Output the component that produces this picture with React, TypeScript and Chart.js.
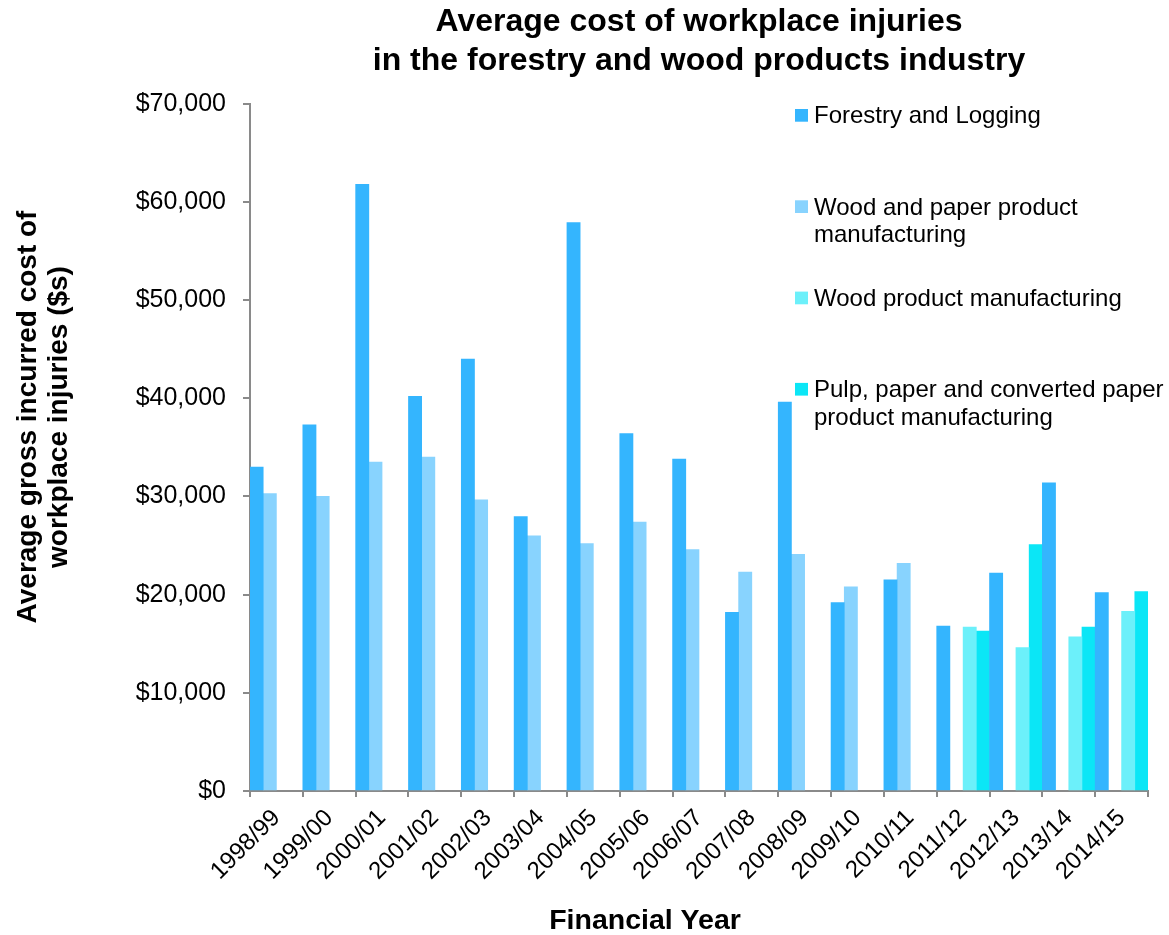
import React, { useEffect, useRef } from "react";
import { Chart, registerables } from "chart.js";

Chart.register(...registerables);

// ---------- data ----------
const categories = [
  "1998/99", "1999/00", "2000/01", "2001/02", "2002/03", "2003/04", "2004/05",
  "2005/06", "2006/07", "2007/08", "2008/09", "2009/10", "2010/11", "2011/12",
  "2012/13", "2013/14", "2014/15",
];

const forestryLogging = [
  33000, 37300, 61800, 40200, 44000, 27950, 57900, 36400, 33800, 18200, 39600,
  19200, 21500, 16800, 22200, 31400, 20200,
];

const woodPaperManufacturing = [
  30300, 30000, 33500, 34000, 29650, 26000, 25200, 27400, 24600, 22300, 24100,
  20800, 23200, null, null, null, null,
];

const woodProductManufacturing = [
  null, null, null, null, null, null, null, null, null, null, null, null, null,
  16700, 14600, 15700, 18300,
];

const pulpPaperManufacturing = [
  null, null, null, null, null, null, null, null, null, null, null, null, null,
  16300, 25100, 16700, 20300,
];

const seriesNames = [
  "Forestry and Logging",
  "Wood and paper product manufacturing",
  "Wood product manufacturing",
  "Pulp, paper and converted paper product manufacturing",
];

const legendLines = [
  ["Forestry and Logging"],
  ["Wood and paper product", "manufacturing"],
  ["Wood product manufacturing"],
  ["Pulp, paper and converted paper", "product manufacturing"],
];

const seriesColors = ["#34b5fe", "#88d3fe", "#6cf0fa", "#0be6f6"];

const chartTitle = [
  "Average cost of workplace injuries",
  "in the forestry and wood products industry",
];
const yAxisTitle = ["Average gross incurred cost of", "workplace injuries ($s)"];
const xAxisTitle = "Financial Year";

const yMin = 0;
const yMax = 70000;
const yStep = 10000;

// ---------- style ----------
const FONT = '"Liberation Sans", Arial, Helvetica, sans-serif';
const AXIS_COLOR = "#8a8a8a";

const overlayPlugin = {
  id: "overlayTexts",
  afterDraw(chart: any) {
    const ctx = chart.ctx as CanvasRenderingContext2D;
    ctx.save();
    ctx.fillStyle = "#000";

    // Y axis title (rotated)
    ctx.font = `bold 28px ${FONT}`;
    ctx.textAlign = "center";
    ctx.textBaseline = "alphabetic";
    yAxisTitle.forEach((line, i) => {
      ctx.save();
      ctx.translate(36 + i * 31, 417);
      ctx.rotate(-Math.PI / 2);
      ctx.fillText(line, 0, 0);
      ctx.restore();
    });

    // X axis title
    ctx.font = `bold 28.5px ${FONT}`;
    ctx.fillText(xAxisTitle, 645, 929);

    // Legend (inside plot area, top right)
    ctx.font = `24px ${FONT}`;
    ctx.textAlign = "left";
    chart.data.datasets.forEach((ds: any, i: number) => {
      const base = 123.3 + i * 91.3;
      ctx.fillStyle = ds.backgroundColor;
      ctx.fillRect(795, base - 14.3, 13, 12.7);
      ctx.fillStyle = "#000";
      legendLines[i].forEach((t, j) => ctx.fillText(t, 814, base + j * 27.7));
    });

    ctx.restore();
  },
};

export default function App() {
  const canvasRef = useRef<HTMLCanvasElement | null>(null);

  useEffect(() => {
    if (!canvasRef.current) return;
    const seriesData = [
      forestryLogging,
      woodPaperManufacturing,
      woodProductManufacturing,
      pulpPaperManufacturing,
    ];
    const chart = new Chart(canvasRef.current, {
      type: "bar",
      data: {
        labels: categories,
        datasets: seriesData.map((d, i) => ({
          label: seriesNames[i],
          data: d,
          backgroundColor: seriesColors[i],
          borderWidth: 0,
          categoryPercentage: 1,
          barPercentage: 1,
        })),
      },
      options: {
        responsive: false,
        animation: false,
        devicePixelRatio: 1,
        layout: { padding: { left: 0, right: 21, top: 0, bottom: 0 } },
        plugins: {
          legend: { display: false },
          tooltip: { enabled: false },
          title: {
            display: true,
            text: chartTitle,
            fullSize: false,
            color: "#000",
            font: { family: FONT, size: 32, weight: "bold", lineHeight: 1.23 },
            padding: { top: 2, bottom: 23 },
          },
        },
        scales: {
          x: {
            type: "category",
            offset: true,
            grid: {
              display: true,
              offset: true,
              drawOnChartArea: false,
              drawTicks: true,
              tickLength: 6,
              color: AXIS_COLOR,
              lineWidth: 2,
            },
            border: { display: true, color: AXIS_COLOR, width: 2 },
            ticks: {
              color: "#000",
              font: { family: FONT, size: 24 },
              minRotation: 45,
              maxRotation: 45,
              autoSkip: false,
              padding: 7,
            },
            afterFit: (scale: any) => {
              scale.height = 144;
            },
          },
          y: {
            min: yMin,
            max: yMax,
            grid: {
              display: true,
              drawOnChartArea: false,
              drawTicks: true,
              tickLength: 7,
              color: AXIS_COLOR,
              lineWidth: 2,
            },
            border: { display: true, color: AXIS_COLOR, width: 2 },
            ticks: {
              stepSize: yStep,
              color: "#000",
              font: { family: FONT, size: 25 },
              padding: 17,
              callback: (v: any) => "$" + Number(v).toLocaleString("en-US"),
            },
            afterFit: (scale: any) => {
              scale.width = 250;
            },
          },
        },
      },
      plugins: [overlayPlugin],
    });
    return () => chart.destroy();
  }, []);

  return (
    <div style={{ position: "fixed", left: 0, top: 0, width: 1169, height: 935, background: "#fff" }}>
      <canvas ref={canvasRef} width={1169} height={935} />
    </div>
  );
}
